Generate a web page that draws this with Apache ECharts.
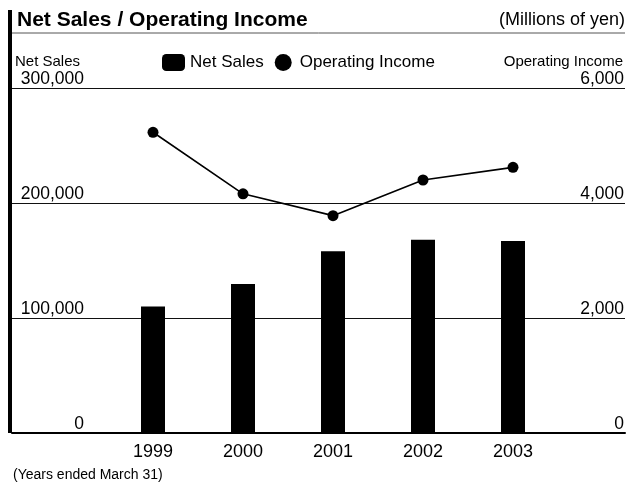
<!DOCTYPE html>
<html>
<head>
<meta charset="utf-8">
<script src="https://cdn.jsdelivr.net/npm/echarts@6/dist/echarts.min.js"></script>
<style>
  html, body { margin: 0; padding: 0; background: #fff; }
  #chart { width: 628px; height: 486px; }
</style>
</head>
<body>
<div id="chart"></div>
<script>
// Fiscal years (ended March 31)
const years = [1999, 2000, 2001, 2002, 2003];
// Net sales, millions of yen
const netSales = [110000, 129500, 158000, 168000, 167000];
// Operating income, millions of yen
const operatingIncome = [5230, 4160, 3780, 4400, 4620];

const FONT = '"Liberation Sans", Arial, Helvetica, sans-serif';
const fmt = v => Number(v).toLocaleString('en-US');

const chart = echarts.init(document.getElementById('chart'), null, { renderer: 'canvas' });

chart.setOption({
  animation: false,
  backgroundColor: '#fff',
  textStyle: { fontFamily: FONT, color: '#000' },
  title: [
    {
      text: 'Net Sales / Operating Income',
      left: 17, top: 10, padding: 0,
      textStyle: { fontFamily: FONT, fontSize: 21, fontWeight: 'bold', color: '#000' }
    },
    {
      text: '(Millions of yen)',
      right: 3, top: 11, padding: 0,
      textStyle: { fontFamily: FONT, fontSize: 18, fontWeight: 'normal', color: '#000' }
    },
    {
      text: '(Years ended March 31)',
      left: 13, top: 468, padding: 0,
      textStyle: { fontFamily: FONT, fontSize: 14, fontWeight: 'normal', color: '#000' }
    }
  ],
  legend: {
    left: 162, top: 54, padding: 0,
    itemWidth: 23, itemHeight: 17, itemGap: 11,
    textStyle: { fontFamily: FONT, fontSize: 17, color: '#000' },
    data: [
      { name: 'Net Sales', icon: 'roundRect' },
      { name: 'Operating Income', icon: 'circle' }
    ]
  },
  grid: { left: 12, right: 3, top: 88, bottom: 53, containLabel: false },
  xAxis: {
    type: 'value',
    min: 1997.4333,
    max: 2004.2444,
    axisLine: { show: true, lineStyle: { color: '#000', width: 2 } },
    axisTick: { show: false },
    splitLine: { show: false },
    axisLabel: {
      margin: 10,
      fontFamily: FONT, fontSize: 18, color: '#000',
      formatter: v => {
        const r = Math.round(v);
        return (Math.abs(v - r) < 1e-6 && years.indexOf(r) >= 0) ? String(r) : '';
      }
    }
  },
  yAxis: [
    {
      type: 'value', position: 'left',
      min: 0, max: 300000, interval: 100000,
      name: 'Net Sales', nameLocation: 'end', nameGap: 19,
      nameTextStyle: { fontFamily: FONT, fontSize: 15, color: '#000', align: 'left', verticalAlign: 'bottom', padding: [0, 0, 0, 3] },
      axisLine: { show: false }, axisTick: { show: false },
      axisLabel: {
        inside: true, align: 'right', verticalAlign: 'bottom', margin: 72,
        fontFamily: FONT, fontSize: 17.5, color: '#000', formatter: fmt
      },
      splitLine: { show: true, lineStyle: { color: '#111', width: 1.2 } }
    },
    {
      type: 'value', position: 'right',
      min: 0, max: 6000, interval: 2000,
      name: 'Operating Income', nameLocation: 'end', nameGap: 19,
      nameTextStyle: { fontFamily: FONT, fontSize: 15, color: '#000', align: 'right', verticalAlign: 'bottom', padding: [0, 2, 0, 0] },
      axisLine: { show: false }, axisTick: { show: false },
      axisLabel: {
        inside: true, align: 'right', verticalAlign: 'bottom', margin: 1,
        fontFamily: FONT, fontSize: 17.5, color: '#000', formatter: fmt
      },
      splitLine: { show: false }
    }
  ],
  graphic: [
    // thick rule down the left edge
    { type: 'rect', left: 8, top: 10, shape: { width: 4, height: 423 }, style: { fill: '#000' }, z: 10 },
    // rule under the heading
    { type: 'line', shape: { x1: 12, y1: 33, x2: 625, y2: 33 }, style: { stroke: '#555', lineWidth: 1 }, z: 10 }
  ],
  series: [
    {
      name: 'Net Sales',
      type: 'bar',
      xAxisIndex: 0, yAxisIndex: 0,
      barWidth: 24,
      itemStyle: { color: '#000' },
      data: years.map((y, i) => [y, netSales[i]]),
      z: 2
    },
    {
      name: 'Operating Income',
      type: 'line',
      xAxisIndex: 0, yAxisIndex: 1,
      symbol: 'circle', symbolSize: 11,
      itemStyle: { color: '#000' },
      lineStyle: { color: '#000', width: 1.6 },
      data: years.map((y, i) => [y, operatingIncome[i]]),
      z: 3
    }
  ]
});
</script>
</body>
</html>
